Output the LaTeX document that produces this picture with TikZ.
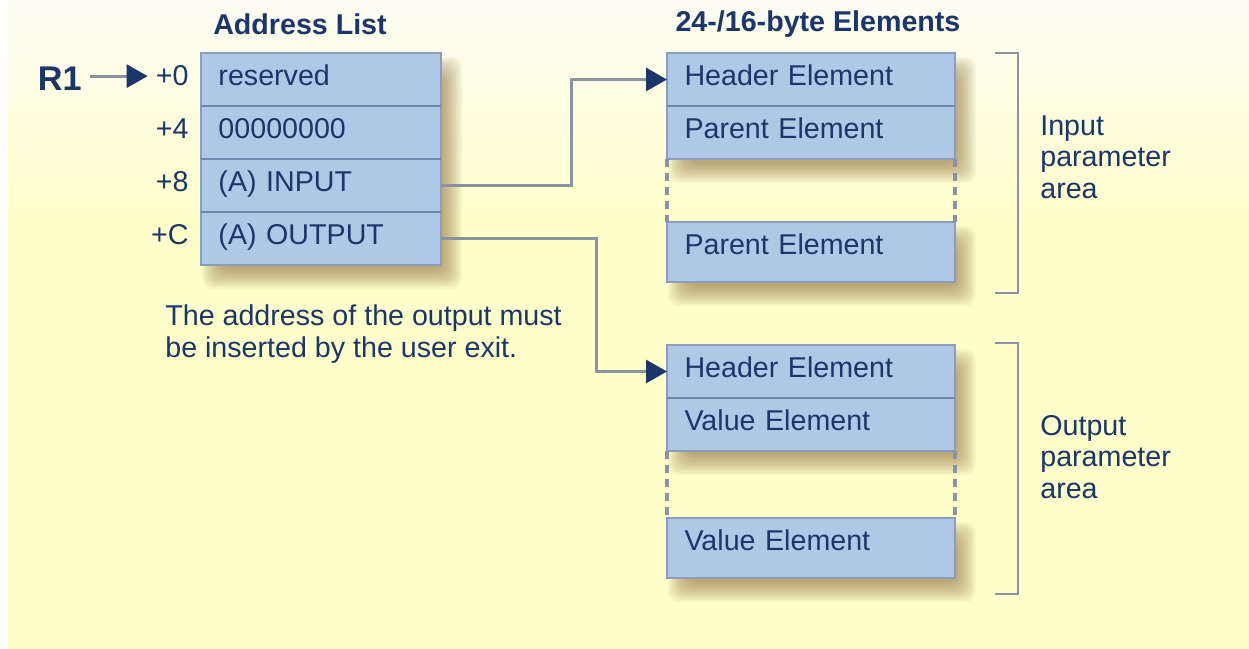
\documentclass[tikz,border=0pt]{standalone}
\usepackage{fontspec}
\setmainfont{Liberation Sans}
\usetikzlibrary{positioning,arrows.meta}

\definecolor{navy}{HTML}{1B3668}
\definecolor{cellblue}{HTML}{B0C8E8}
\definecolor{cellline}{HTML}{8A9CC0}
\definecolor{rowline}{HTML}{6F87AD}
\definecolor{wiregray}{HTML}{8A949F}
\definecolor{paper}{HTML}{FFFFCC}
\definecolor{paperlight}{HTML}{FDFDF4}
\definecolor{shadetone}{HTML}{8A6A38}

\pgfdeclarelayer{paperlayer}
\pgfdeclarelayer{shadelayer}
\pgfsetlayers{paperlayer,shadelayer,main}

\tikzset{
  every node/.style={text=navy,font=\fontsize{16.3pt}{18pt}\selectfont},
  cell/.style={draw=cellline,line width=.8pt,fill=cellblue,anchor=north west,align=left,
    inner xsep=.35cm,inner ysep=0pt,outer sep=0pt,text height=.66cm,text depth=.4cm},
  addrcell/.style={cell,text width=4.1cm},
  elemcell/.style={cell,text width=5.06cm},
  tallcell/.style={text depth=.54cm},
  title/.style={font=\bfseries\fontsize{16.3pt}{18pt}\selectfont},
  offset/.style={anchor=base east,inner sep=0pt},
  remark/.style={anchor=west,align=left,inner sep=0pt},
  rowsplit/.style={draw=rowline,line width=1.6pt},
  gapline/.style={draw=wiregray,line width=2pt,dash pattern=on 4.5pt off 3.5pt},
  bracket/.style={draw=wiregray,line width=1.6pt},
  wire/.style={draw=wiregray,line width=1.7pt,-{Triangle[length=.42cm,width=.46cm,color=navy]}},
}

%% soft shadow behind a block of cells
\newcommand{\boxshade}[2]{%
  \foreach \s in {-10,-8,...,10}
    \fill[shadetone,opacity=.07,rounded corners=6pt]
      ([shift={(11+\s,14+\s)}]#1) rectangle ([shift={(11-\s,14-\s)}]#2);}

\begin{document}
\begin{tikzpicture}[x=.02cm,y=-.02cm]
  \useasboundingbox (0,0) rectangle (1249,649);

  %% titles
  \node[title] (addrTitle) at (300,24) {Address List};
  \node[title] (elemTitle) at (818,24) {24-/16-byte Elements};

  %% address list
  \node[addrcell] (addr0) at (201,53) {reserved};
  \node[addrcell,below=0pt of addr0] (addr4) {00000000};
  \node[addrcell,below=0pt of addr4] (addr8) {(A) INPUT};
  \node[addrcell,below=0pt of addr8] (addrC) {(A) OUTPUT};
  \foreach \n in {0,4,8}
    \draw[rowsplit] (addr\n.south west) -- (addr\n.south east);

  %% offsets
  \foreach \n in {0,4,8,C}
    \node[offset] (off\n) at ([xshift=-.24cm]addr\n.base west) {+\n};

  \node[offset,font=\bfseries\fontsize{19.5pt}{20pt}\selectfont] (reg) at (82,91) {R1};
  \draw[wire,shorten <=.16cm,shorten >=.16cm] (reg.east |- off0.west) -- (off0.west);

  \node[remark] (note) at (165,334)
    {The address of the output must\\be inserted by the user exit.};

  %% input elements
  \node[elemcell] (inHead) at (667,53) {Header Element};
  \node[elemcell,below=0pt of inHead] (inPar) {Parent Element};
  \node[elemcell,tallcell] (inParN) at (667,222) {Parent Element};
  \draw[rowsplit] (inHead.south west) -- (inHead.south east);
  \draw[gapline] (inPar.south west) -- (inParN.north west);
  \draw[gapline] (inPar.south east) -- (inParN.north east);

  %% output elements
  \node[elemcell] (outHead) at (667,345) {Header Element};
  \node[elemcell,below=0pt of outHead] (outVal) {Value Element};
  \node[elemcell,tallcell] (outValN) at (667,518) {Value Element};
  \draw[rowsplit] (outHead.south west) -- (outHead.south east);
  \draw[gapline] (outVal.south west) -- (outValN.north west);
  \draw[gapline] (outVal.south east) -- (outValN.north east);

  %% brackets
  \draw[bracket] (995,53) -- (1018,53) -- (1018,293) -- (995,293);
  \draw[bracket] (995,343) -- (1018,343) -- (1018,594) -- (995,594);
  \node[remark] (inLabel) at (1040,157) {Input\\parameter\\area};
  \node[remark] (outLabel) at (1040,457) {Output\\parameter\\area};

  %% pointers
  \draw[wire] (addr8.east) -- ++(131,0) |- (inHead.west);
  \draw[wire] (addrC.east) -- ++(156,0) |- (outHead.west);

  \begin{pgfonlayer}{shadelayer}
    \boxshade{addr0.north west}{addrC.south east}
    \boxshade{inHead.north west}{inPar.south east}
    \boxshade{inParN.north west}{inParN.south east}
    \boxshade{outHead.north west}{outVal.south east}
    \boxshade{outValN.north west}{outValN.south east}
  \end{pgfonlayer}

  \begin{pgfonlayer}{paperlayer}
    \fill[paper] (8,0) rectangle (1249,649);
    \shade[top color=paperlight,bottom color=paper] (8,0) rectangle (1249,220);
  \end{pgfonlayer}
\end{tikzpicture}
\end{document}
